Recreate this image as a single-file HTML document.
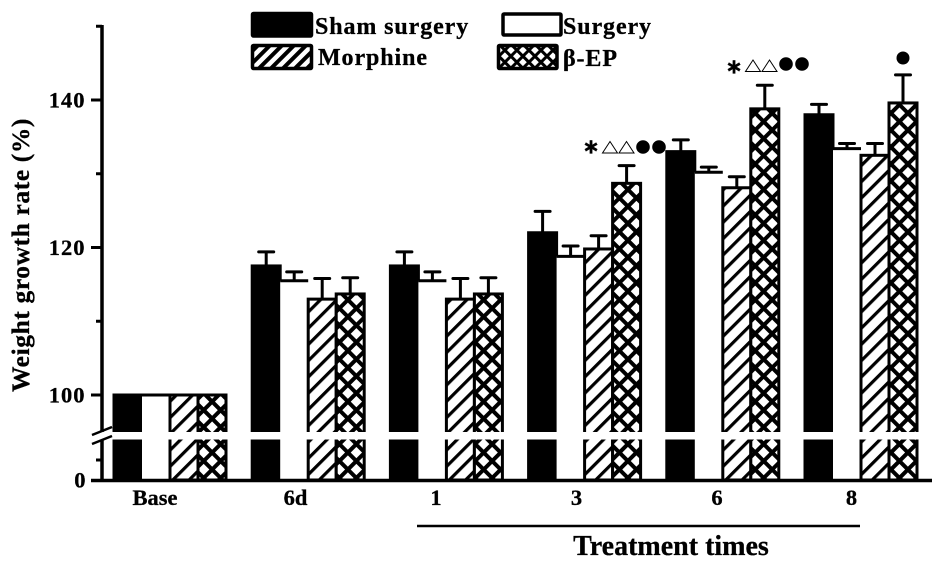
<!DOCTYPE html>
<html>
<head>
<meta charset="utf-8">
<style>
html,body{margin:0;padding:0;background:#fff;}
svg{display:block;}
text{font-family:"Liberation Serif",serif;font-weight:bold;fill:#000;stroke:#000;stroke-width:0.3;}
</style>
</head>
<body>
<svg id="chart" width="945" height="568" viewBox="0 0 945 568" xmlns="http://www.w3.org/2000/svg">
<defs>
<pattern id="hatch" patternUnits="userSpaceOnUse" width="11.5" height="11.5" patternTransform="rotate(45)">
<rect width="11.5" height="11.5" fill="#fff"/>
<rect x="0" y="0" width="3.2" height="11.5" fill="#000"/>
</pattern>
<pattern id="cross" patternUnits="userSpaceOnUse" width="12" height="12" patternTransform="rotate(45)">
<rect width="12" height="12" fill="#fff"/>
<rect x="0" y="0" width="4" height="12" fill="#000"/>
<rect x="0" y="0" width="12" height="4" fill="#000"/>
</pattern>
<pattern id="hatch-legend" patternUnits="userSpaceOnUse" width="8.5" height="8.5" patternTransform="rotate(45)">
<rect width="8.5" height="8.5" fill="#fff"/>
<rect x="0" y="0" width="4" height="8.5" fill="#000"/>
</pattern>
<pattern id="cross-legend" patternUnits="userSpaceOnUse" width="8.5" height="8.5" patternTransform="rotate(45)">
<rect width="8.5" height="8.5" fill="#fff"/>
<rect x="0" y="0" width="3" height="8.5" fill="#000"/>
<rect x="0" y="0" width="8.5" height="3" fill="#000"/>
</pattern>
</defs>
</svg>
<script>
const categories = ['Base', '6d', '1', '3', '6', '8'];
const shamValues = [100, 117.5, 117.5, 122, 133, 138];
const surgeryValues = [100, 115.5, 115.5, 118.8, 130.2, 133.4];
const morphineValues = [100, 113, 113, 119.8, 128.1, 132.5];
const betaEpValues = [100, 113.7, 113.7, 128.7, 138.8, 139.6];
const shamErrors = [0, 1.9, 1.9, 2.9, 1.6, 1.4];
const surgeryErrors = [0, 1.2, 1.2, 1.4, 0.7, 0.7];
const morphineErrors = [0, 2.8, 2.8, 1.8, 1.5, 1.6];
const betaEpErrors = [0, 2.2, 2.2, 2.4, 3.2, 3.8];
const upperTicks = [100, 110, 120, 130, 140, 150];
const upperTickLabels = ['100', '', '120', '', '140', ''];

const NS = 'http://www.w3.org/2000/svg';
const svg = document.getElementById('chart');
function make(tag, attrs, text) {
  const el = document.createElementNS(NS, tag);
  for (const k in attrs) el.setAttribute(k, attrs[k]);
  if (text !== undefined) el.textContent = text;
  return el;
}
function yScale(v) { return 395 - (v - 100) * 7.375; }
function groupX(i) { return 114 + i * 138.2; }
function labelX(i) { return 155 + i * 140.5 - (i === 5 ? 6 : 0); }
const baseY = 480;
const barW = 28;

const seriesList = [
  { key: 'sham', values: shamValues, errors: shamErrors, fill: '#000' },
  { key: 'surgery', values: surgeryValues, errors: surgeryErrors, fill: '#fff' },
  { key: 'morphine', values: morphineValues, errors: morphineErrors, fill: 'url(#hatch)' },
  { key: 'beta-ep', values: betaEpValues, errors: betaEpErrors, fill: 'url(#cross)' }
];

seriesList.forEach(function (s, si) {
  s.values.forEach(function (v, i) {
    const x = groupX(i) + si * barW;
    const top = yScale(v);
    if (s.errors[i] > 0) {
      const cx = x + barW / 2;
      const et = yScale(v + s.errors[i]);
      const stem = make('line', { x1: cx, x2: cx, y1: top, y2: et, stroke: '#000', 'stroke-width': 3 });
      
      
      svg.appendChild(stem);
      const cap = make('line', { x1: cx - 7.5, x2: cx + 7.5, y1: et, y2: et, stroke: '#000', 'stroke-width': 3, 'stroke-linecap': 'round' });
      
      
      svg.appendChild(cap);
    }
  });
});
seriesList.forEach(function (s, si) {
  s.values.forEach(function (v, i) {
    const x = groupX(i) + si * barW;
    const top = yScale(v);
    if (si === 1) {
      const fillRect = make('rect', { x: x, y: top, width: barW, height: baseY - top, fill: '#fff' });
      
      
      svg.appendChild(fillRect);
      const topLine = make('line', { x1: x, x2: x + barW, y1: top, y2: top, stroke: '#000', 'stroke-width': 3 });
      
      
      svg.appendChild(topLine);
    } else {
      const bar = make('rect', { x: x, y: top, width: barW, height: baseY - top, fill: s.fill, stroke: '#000', 'stroke-width': 3 });
      
      
      svg.appendChild(bar);
    }
  });
});

const gap = make('rect', { x: 85, y: 432, width: 850, height: 7.5, fill: '#fff' });


svg.appendChild(gap);

const yAxisUpper = make('line', { x1: 102, x2: 102, y1: 25, y2: 432, stroke: '#000', 'stroke-width': 3.5 });


svg.appendChild(yAxisUpper);
const yAxisLower = make('line', { x1: 102, x2: 102, y1: 440, y2: 481, stroke: '#000', 'stroke-width': 3.5 });


svg.appendChild(yAxisLower);
const xAxis = make('line', { x1: 91, x2: 932, y1: 480.5, y2: 480.5, stroke: '#000', 'stroke-width': 3.5 });


svg.appendChild(xAxis);

['break-slash-upper', 'break-slash-lower'].forEach(function (name, i) {
  const slash = make('line', { x1: 92, x2: 112, y1: 435 + i * 9, y2: 427 + i * 9, stroke: '#000', 'stroke-width': 2.5 });
  
  
  svg.appendChild(slash);
});

upperTicks.forEach(function (t, i) {
  const major = upperTickLabels[i] !== '';
  const y = yScale(t);
  const tick = make('line', { x1: major ? 91 : 96, x2: 102, y1: y, y2: y, stroke: '#000', 'stroke-width': 3 });
  
  
  svg.appendChild(tick);
  if (major) {
    const label = make('text', { x: 85.5, y: y + 7.5, 'text-anchor': 'end', 'font-size': 22.5, 'letter-spacing': 1 }, upperTickLabels[i]);
    
    
    svg.appendChild(label);
  }
});
const minorLow = make('line', { x1: 96, x2: 102, y1: 460, y2: 460, stroke: '#000', 'stroke-width': 3 });


svg.appendChild(minorLow);
const zeroLabel = make('text', { x: 85.5, y: 487.5, 'text-anchor': 'end', 'font-size': 22.5 }, '0');


svg.appendChild(zeroLabel);

categories.forEach(function (c, i) {
  const label = make('text', { x: labelX(i), y: 505, 'text-anchor': 'middle', 'font-size': 22.5 }, c);
  
  
  svg.appendChild(label);
});

const yTitle = make('text', { x: 0, y: 0, 'text-anchor': 'middle', 'font-size': 25.5, transform: 'translate(29 255) rotate(-90)', 'letter-spacing': 0.6 }, 'Weight growth rate (%)');


svg.appendChild(yTitle);

const bracket = make('line', { x1: 417, x2: 860, y1: 526, y2: 526, stroke: '#000', 'stroke-width': 2.5 });


svg.appendChild(bracket);
const xTitle = make('text', { x: 671, y: 555, 'text-anchor': 'middle', 'font-size': 28 }, 'Treatment times');


svg.appendChild(xTitle);

const legendItems = [
  { name: 'sham', label: 'Sham surgery', x: 252.5, y: 13.5, w: 59, h: 22.5, fill: '#000', tx: 315, ty: 34 },
  { name: 'surgery', label: 'Surgery', x: 503, y: 14, w: 58, h: 21, fill: '#fff', tx: 563, ty: 34 },
  { name: 'morphine', label: 'Morphine', x: 252.5, y: 45.5, w: 59, h: 23, fill: 'url(#hatch-legend)', tx: 318, ty: 65 },
  { name: 'beta-ep', label: 'β-EP', x: 498.5, y: 45.5, w: 58.5, h: 23, fill: 'url(#cross-legend)', tx: 563, ty: 66 }
];
legendItems.forEach(function (it) {
  const swatch = make('rect', { x: it.x, y: it.y, width: it.w, height: it.h, fill: it.fill, stroke: '#000', 'stroke-width': 3.5, rx: 1 });
  
  
  svg.appendChild(swatch);
  const text = make('text', { x: it.tx, y: it.ty, 'font-size': 24, 'letter-spacing': 0.9 }, it.label);
  
  
  svg.appendChild(text);
});

function drawSig(name, x, starY, triY, dotY) {
  const star = make('text', { x: x, y: starY + 5.5, 'text-anchor': 'middle', 'font-size': 21, style: 'font-family:"DejaVu Sans",sans-serif' }, '∗');
  
  
  svg.appendChild(star);
  for (let k = 0; k < 2; k++) {
    const cx = x + 19 + k * 16.5;
    const tri = make('polygon', { points: (cx - 7.5) + ',' + (triY + 5.5) + ' ' + (cx + 7.5) + ',' + (triY + 5.5) + ' ' + cx + ',' + (triY - 6), fill: 'none', stroke: '#000', 'stroke-width': 1 });
    
    
    svg.appendChild(tri);
    const dot = make('circle', { cx: x + 52 + k * 16, cy: dotY, r: 6.8, fill: '#000' });
    
    
    svg.appendChild(dot);
  }
}
drawSig('treatment-3', 591, 148, 147.5, 147);
drawSig('treatment-6', 734, 68, 66, 64);
const lastDot = make('circle', { cx: 903, cy: 58, r: 6.5, fill: '#000' });


svg.appendChild(lastDot);
</script>
</body>
</html>
